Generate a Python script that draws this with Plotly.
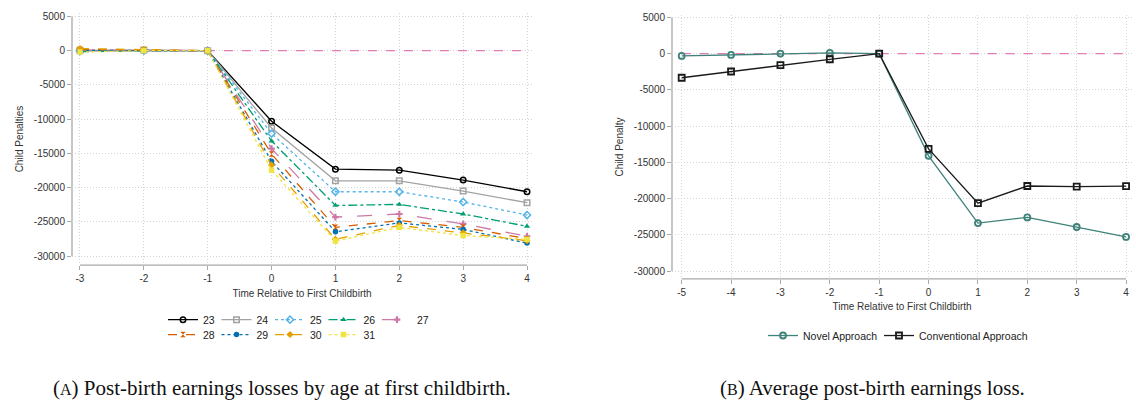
import plotly.graph_objects as go

# ---- Panel A: child penalties by age at first childbirth ----
periods_a = [-3, -2, -1, 0, 1, 2, 3, 4]
ages = ["23", "24", "25", "26", "27", "28", "29", "30", "31"]
pen_23 = [0, 50, 0, -10300, -17300, -17450, -18900, -20600]
pen_24 = [50, 100, 0, -11300, -19000, -19000, -20500, -22200]
pen_25 = [-50, 0, 0, -12100, -20600, -20600, -22100, -24000]
pen_26 = [-150, 0, 0, -13200, -22600, -22450, -23850, -25650]
pen_27 = [100, 50, 0, -14300, -24300, -23850, -25300, -27100]
pen_28 = [150, 100, 0, -15100, -25800, -24800, -25800, -27450]
pen_29 = [50, 50, 0, -16150, -26450, -25150, -26100, -28100]
pen_30 = [300, 200, 0, -16700, -27550, -25500, -26600, -27750]
pen_31 = [-200, 0, 0, -17450, -27800, -25800, -27000, -27550]

# ---- Panel B: average child penalty, two estimators ----
periods_b = [-5, -4, -3, -2, -1, 0, 1, 2, 3, 4]
novel = [-320, -180, 0, 100, 0, -14100, -23380, -22600, -23930, -25300]
conventional = [-3330, -2470, -1600, -780, 0, -13150, -20640, -18270, -18360, -18300]

y_ticks = [5000, 0, -5000, -10000, -15000, -20000, -25000, -30000]
y_ticklabels = ["5000", "0", "-5000", "-10000", "-15000", "-20000", "-25000", "-30000"]
x_ticklabels_a = ["-3", "-2", "-1", "0", "1", "2", "3", "4"]
x_ticklabels_b = ["-5", "-4", "-3", "-2", "-1", "0", "1", "2", "3", "4"]
zero_line = 0

age_series = [pen_23, pen_24, pen_25, pen_26, pen_27, pen_28, pen_29, pen_30, pen_31]
age_colors = ["#000000", "#a3a3a3", "#56B4E9", "#009E73", "#CC79A7",
              "#D55E00", "#0072B2", "#E69F00", "#F0E442"]
age_dash = ["solid", "solid", "dot", "dashdot", "longdash", "dash", "dot", "dash", "dot"]
age_symbols = ["circle-open", "square-open", "diamond-open", "triangle-up", "cross",
               "hourglass", "circle", "diamond", "square"]

SANS = "Liberation Sans, Arial, sans-serif"
SERIF = "Liberation Serif, Times New Roman, serif"
GRID = "#d4d4d4"
AXIS = "#a8a8a8"
PINK = "#E27DB8"

fig = go.Figure()

# reference line at zero, beneath the series
fig.add_trace(go.Scatter(x=[periods_a[0], periods_a[-1]], y=[zero_line, zero_line],
                         mode="lines", line=dict(color=PINK, width=1.2, dash="dash"),
                         showlegend=False, hoverinfo="skip", xaxis="x", yaxis="y"))
fig.add_trace(go.Scatter(x=[periods_b[0], periods_b[-1]], y=[zero_line, zero_line],
                         mode="lines", line=dict(color=PINK, width=1.2, dash="dash"),
                         showlegend=False, hoverinfo="skip", xaxis="x2", yaxis="y2"))

for i, (age, vals) in enumerate(zip(ages, age_series)):
    sym = age_symbols[i]
    open_sym = sym.endswith("-open")
    fig.add_trace(go.Scatter(
        x=periods_a, y=vals, name=age, mode="lines+markers",
        line=dict(color=age_colors[i], width=1.3, dash=age_dash[i]),
        marker=dict(symbol=sym, size=5.5, color=age_colors[i],
                    line=dict(color=age_colors[i], width=1.5 if open_sym else 0)),
        legend="legend" if i < 5 else "legend2",
        xaxis="x", yaxis="y"))

fig.add_trace(go.Scatter(
    x=periods_b, y=novel, name="Novel Approach", mode="lines+markers",
    line=dict(color="#3E8279", width=1.3),
    marker=dict(symbol="circle-open", size=6, color="#3E8279", line=dict(width=1.8)),
    legend="legend3", legendwidth=71, xaxis="x2", yaxis="y2"))
fig.add_trace(go.Scatter(
    x=periods_b, y=conventional, name="Conventional Approach", mode="lines+markers",
    line=dict(color="#1a1a1a", width=1.3),
    marker=dict(symbol="square-open", size=6, color="#1a1a1a", line=dict(width=1.8)),
    legend="legend3", xaxis="x2", yaxis="y2"))

W, H = 1136, 406


def px_x(p):
    return p / W


def px_y(p):
    return 1 - p / H


common_x = dict(showline=False, zeroline=False, showgrid=True, gridcolor=GRID,
                griddash="1px,2px", gridwidth=1, ticks="outside", ticklen=4,
                tickcolor=AXIS, tickfont=dict(family=SANS, size=10, color="#333333"))
common_y = dict(showline=False, zeroline=False, showgrid=True, gridcolor=GRID,
                griddash="1px,2px", gridwidth=1, ticks="outside", ticklen=4,
                tickcolor=AXIS, tickvals=y_ticks, ticktext=y_ticklabels,
                tickfont=dict(family=SANS, size=10, color="#333333"))

legend_common = dict(orientation="h", xanchor="left", yanchor="middle",
                     bgcolor="rgba(0,0,0,0)", borderwidth=0, itemwidth=30,
                     font=dict(family=SANS, size=10.5, color="#222222"),
                     entrywidthmode="pixels", tracegroupgap=0)

fig.update_layout(
    width=W, height=H, margin=dict(l=0, r=0, t=0, b=0),
    paper_bgcolor="white", plot_bgcolor="white",
    xaxis=dict(domain=[px_x(72), px_x(532)], range=[-3.125, 4.078],
               tickvals=periods_a, ticktext=x_ticklabels_a, anchor="y",
               title=dict(text="Time Relative to First Childbirth",
                          font=dict(family=SANS, size=10, color="#333333"), standoff=6),
               **common_x),
    yaxis=dict(domain=[px_y(264), px_y(10)], range=[-31304, 5507], anchor="x",
               title=dict(text="Child Penalties",
                          font=dict(family=SANS, size=10, color="#333333"), standoff=8),
               **common_y),
    xaxis2=dict(domain=[px_x(672), px_x(1132)], range=[-5.196, 4.12],
                tickvals=periods_b, ticktext=x_ticklabels_b, anchor="y2",
                title=dict(text="Time Relative to First Childbirth",
                           font=dict(family=SANS, size=10, color="#333333"), standoff=6),
                **common_x),
    yaxis2=dict(domain=[px_y(278), px_y(12)], range=[-31096, 5342], anchor="x2",
                title=dict(text="Child Penalty",
                           font=dict(family=SANS, size=10, color="#333333"), standoff=8),
                **common_y),
    legend=dict(x=px_x(163), y=px_y(319), entrywidth=8.5, **legend_common),
    legend2=dict(x=px_x(163), y=px_y(334), entrywidth=8.5, **legend_common),
    legend3=dict(x=px_x(763), y=px_y(335), **legend_common),
    showlegend=True,
)

# axis lines spanning only the labelled range
for xa, ya, xs in (("x", "y", periods_a), ("x2", "y2", periods_b)):
    fig.add_shape(type="line", xref=xa, x0=xs[0], x1=xs[-1],
                  yref=f"{ya} domain", y0=0, y1=0,
                  line=dict(color=AXIS, width=1.3), layer="below")
    fig.add_shape(type="line", xref=f"{xa} domain", x0=0, x1=0,
                  yref=ya, y0=min(y_ticks), y1=max(y_ticks),
                  line=dict(color=AXIS, width=1.3), layer="below")

# panel captions
fig.add_annotation(text="(<span style='font-size:16px'>A</span>) Post-birth earnings losses by age at first childbirth.",
                   xref="paper", yref="paper", x=px_x(282), y=px_y(388),
                   xanchor="center", yanchor="middle", showarrow=False,
                   font=dict(family=SERIF, size=21, color="#111111"))
fig.add_annotation(text="(<span style='font-size:16px'>B</span>) Average post-birth earnings loss.",
                   xref="paper", yref="paper", x=px_x(872), y=px_y(388),
                   xanchor="center", yanchor="middle", showarrow=False,
                   font=dict(family=SERIF, size=21, color="#111111"))

fig.write_html("out.html")
